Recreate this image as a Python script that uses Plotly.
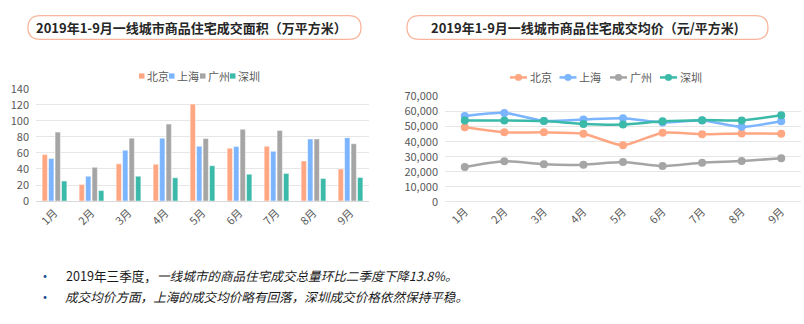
import plotly.graph_objects as go

months = ["1月", "2月", "3月", "4月", "5月", "6月", "7月", "8月", "9月"]
cities = ["北京", "上海", "广州", "深圳"]
colors = ["#FFA783", "#7BB4FF", "#A5A5A5", "#3BB9A9"]

area_beijing = [58, 20.5, 46.5, 46, 121, 66, 68.5, 50, 40]
area_shanghai = [53, 31, 63.5, 78.5, 68.5, 68, 62, 77.5, 79]
area_guangzhou = [86, 42, 78.5, 96, 78, 89.5, 88, 77.5, 71.5]
area_shenzhen = [25, 13, 31, 29, 44, 33.5, 34.5, 28, 29.5]

price_beijing = [49500, 46200, 46200, 45300, 37600, 46000, 44900, 45500, 45300]
price_shanghai = [57000, 59100, 53800, 54700, 55600, 52700, 54100, 49900, 53500]
price_guangzhou = [23200, 27000, 25000, 24700, 26500, 23800, 26100, 27200, 29000]
price_shenzhen = [54100, 54100, 53700, 51800, 51400, 53500, 54300, 54100, 57500]

title_left = "2019年1-9月一线城市商品住宅成交面积（万平方米）"
title_right = "2019年1-9月一线城市商品住宅成交均价（元/平方米)"
note_1 = "2019年三季度，<i>一线城市的商品住宅成交总量环比二季度下降13.8%。</i>"
note_2 = "<i>成交均价方面，上海的成交均价略有回落，深圳成交价格依然保持平稳。</i>"

W, H = 804, 324
FONT = "Noto Sans CJK SC, Noto Sans, sans-serif"

fig = go.Figure()

areas = [area_beijing, area_shanghai, area_guangzhou, area_shenzhen]
prices = [price_beijing, price_shanghai, price_guangzhou, price_shenzhen]

for name, vals, c in zip(cities, areas, colors):
    fig.add_trace(go.Bar(
        x=months, y=vals, name=name,
        marker=dict(color=c, line=dict(color="rgba(255,255,255,0.6)", width=0.8)),
        xaxis="x", yaxis="y", showlegend=False))

for name, vals, c in zip(cities, prices, colors):
    fig.add_trace(go.Scatter(
        x=months, y=vals, name=name, mode="lines+markers",
        line=dict(color=c, width=2.5, shape="spline", smoothing=0.6),
        marker=dict(color=c, size=8),
        xaxis="x2", yaxis="y2", showlegend=False))


def px_x(v):
    return v / W


def px_y(v):
    return 1 - v / H


def pill(x0, y0, x1, y1, r):
    rx, ry = r / W, r / H
    X0, X1 = px_x(x0), px_x(x1)
    Y0, Y1 = px_y(y0), px_y(y1)  # Y0 top, Y1 bottom
    return (f"M {X0+rx},{Y0} L {X1-rx},{Y0} Q {X1},{Y0} {X1},{Y0-ry} "
            f"L {X1},{Y1+ry} Q {X1},{Y1} {X1-rx},{Y1} L {X0+rx},{Y1} "
            f"Q {X0},{Y1} {X0},{Y1+ry} L {X0},{Y0-ry} Q {X0},{Y0} {X0+rx},{Y0} Z")


shapes = [
    dict(type="path", xref="paper", yref="paper", path=pill(28, 7, 361, 32, 12.5),
         line=dict(color="#F9B59B", width=1.3), fillcolor="rgba(0,0,0,0)"),
    dict(type="path", xref="paper", yref="paper", path=pill(407, 7, 768, 32, 12.5),
         line=dict(color="#F9B59B", width=1.3), fillcolor="rgba(0,0,0,0)"),
]

legfont = dict(size=11, color="#595959", family=FONT)
annotations = []

# custom legend: bar chart (squares)
leg1_x = [139, 169, 200, 230]
leg1_y = 70.5
for name, c, lx in zip(cities, colors, leg1_x):
    shapes.append(dict(type="rect", xref="paper", yref="paper",
                       x0=px_x(lx), x1=px_x(lx + 5.5), y0=px_y(leg1_y + 2.75), y1=px_y(leg1_y - 2.75),
                       line=dict(width=0), fillcolor=c))
    annotations.append(dict(text=name, x=px_x(lx + 6), y=px_y(leg1_y), xref="paper", yref="paper",
                            showarrow=False, xanchor="left", yanchor="middle", font=legfont))

# custom legend: line chart (line + circle)
leg2_x = [510, 559.5, 610, 660]
leg2_y = 72
for name, c, lx in zip(cities, colors, leg2_x):
    shapes.append(dict(type="line", xref="paper", yref="paper",
                       x0=px_x(lx), x1=px_x(lx + 17), y0=px_y(leg2_y), y1=px_y(leg2_y),
                       line=dict(color=c, width=2.5)))
    shapes.append(dict(type="circle", xref="paper", yref="paper",
                       x0=px_x(lx + 8.5 - 3.6), x1=px_x(lx + 8.5 + 3.6),
                       y0=px_y(leg2_y + 3.6), y1=px_y(leg2_y - 3.6),
                       line=dict(width=0), fillcolor=c))
    annotations.append(dict(text=name, x=px_x(lx + 17.5), y=px_y(leg2_y), xref="paper", yref="paper",
                            showarrow=False, xanchor="left", yanchor="middle", font=legfont))

annotations += [
    dict(text=f"<b>{title_left}</b>", x=px_x(191), y=px_y(19.5), xref="paper", yref="paper",
         showarrow=False, xanchor="center", yanchor="middle",
         font=dict(size=13, color="#262626", family=FONT)),
    dict(text=f"<b>{title_right}</b>", x=px_x(585), y=px_y(19.5), xref="paper", yref="paper",
         showarrow=False, xanchor="center", yanchor="middle",
         font=dict(size=13, color="#262626", family=FONT)),
    dict(text="•", x=px_x(45), y=px_y(280), xref="paper", yref="paper", showarrow=False,
         xanchor="center", yanchor="middle", font=dict(size=14, color="#1F4E9A", family=FONT)),
    dict(text="•", x=px_x(45), y=px_y(302), xref="paper", yref="paper", showarrow=False,
         xanchor="center", yanchor="middle", font=dict(size=14, color="#1F4E9A", family=FONT)),
    dict(text=note_1, x=px_x(64), y=px_y(280), xref="paper", yref="paper", showarrow=False,
         xanchor="left", yanchor="middle", font=dict(size=12.6, color="#1A1A1A", family=FONT)),
    dict(text=note_2, x=px_x(62.5), y=px_y(302), xref="paper", yref="paper", showarrow=False,
         xanchor="left", yanchor="middle", font=dict(size=12.6, color="#1A1A1A", family=FONT)),
]

tickfont = dict(size=11, color="#595959", family=FONT)
grid = "#E6E6E6"

fig.update_layout(
    width=W, height=H,
    margin=dict(l=0, r=0, t=0, b=0),
    paper_bgcolor="white", plot_bgcolor="white",
    font=dict(family=FONT, color="#595959"),
    barmode="group", bargap=0.3, bargroupgap=0.18,
    showlegend=False,
    xaxis=dict(domain=[px_x(36), px_x(369)], anchor="y", type="category",
               range=[-0.5, 8.5], tickangle=-45, tickfont=tickfont,
               showline=True, linecolor="#D9D9D9", linewidth=1, ticks="",
               showgrid=False),
    yaxis=dict(domain=[px_y(202), px_y(84)], anchor="x", range=[0, 140], dtick=20,
               tickfont=tickfont, gridcolor=grid, gridwidth=1, zeroline=False,
               showline=False, ticks="", ticklabelstandoff=6),
    xaxis2=dict(domain=[px_x(445), px_x(801)], anchor="y2", type="category",
                range=[-0.5, 8.5], tickangle=-45, tickfont=tickfont,
                showline=False, ticks="", showgrid=False),
    yaxis2=dict(domain=[px_y(203), px_y(92)], anchor="x2", range=[0, 70000], dtick=10000,
                tickformat=",", tickfont=tickfont, gridcolor=grid, gridwidth=1,
                zeroline=True, zerolinecolor=grid, zerolinewidth=1, showline=False, ticks="",
                ticklabelstandoff=6),
    shapes=shapes,
    annotations=annotations,
)

fig.write_html("out.html")
